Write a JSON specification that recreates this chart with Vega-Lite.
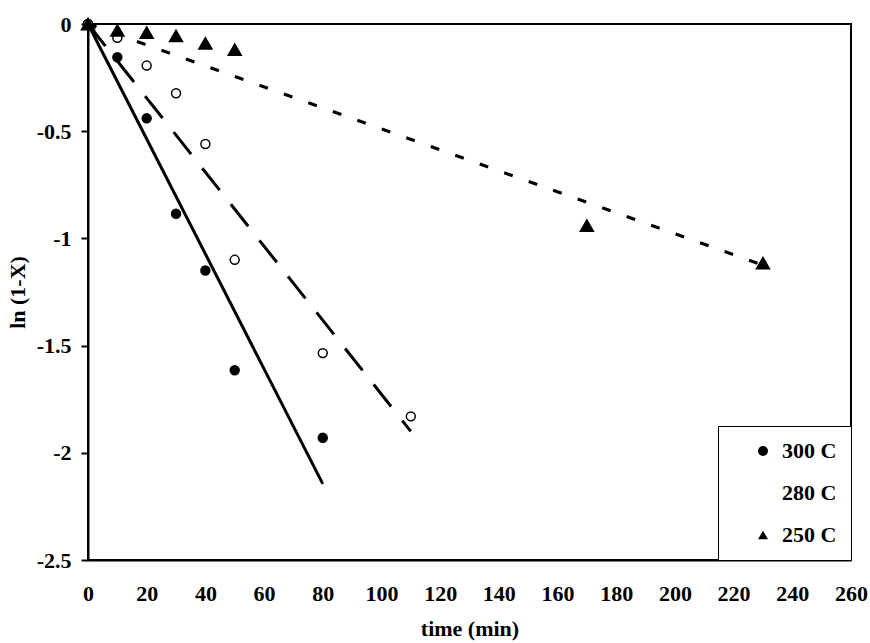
{
  "$schema": "https://vega.github.io/schema/vega-lite/v6.json",
  "width": 763,
  "height": 536,
  "autosize": {"type": "none"},
  "padding": {"left": 88, "top": 24, "right": 19, "bottom": 83},
  "background": "white",
  "config": {
    "view": {"stroke": "black", "strokeWidth": 2},
    "font": "Liberation Serif",
    "axis": {"grid": false, "domainColor": "black", "domainWidth": 2, "labelColor": "black", "titleColor": "black", "labelFont": "Liberation Serif", "titleFont": "Liberation Serif", "labelFontWeight": "bold", "titleFontWeight": "bold", "labelFontSize": 22, "titleFontSize": 22},
    "legend": {"orient": "bottom-right", "offset": 0, "strokeColor": "black", "fillColor": "white", "padding": 14, "rowPadding": 20, "labelFont": "Liberation Serif", "labelFontSize": 22, "labelFontWeight": "bold", "labelColor": "black", "symbolStrokeColor": "black", "symbolStrokeWidth": 1.5, "symbolSize": 100, "symbolOpacity": 1, "symbolOffset": 20, "labelOffset": 8}
  },
  "datasets": {
    "points": [
      {"series": "300 C", "t": 0, "v": 0},
      {"series": "300 C", "t": 10, "v": -0.155},
      {"series": "300 C", "t": 20, "v": -0.44},
      {"series": "300 C", "t": 30, "v": -0.885},
      {"series": "300 C", "t": 40, "v": -1.15},
      {"series": "300 C", "t": 50, "v": -1.615},
      {"series": "300 C", "t": 80, "v": -1.93},
      {"series": "280 C", "t": 0, "v": 0},
      {"series": "280 C", "t": 10, "v": -0.064},
      {"series": "280 C", "t": 20, "v": -0.194},
      {"series": "280 C", "t": 30, "v": -0.323},
      {"series": "280 C", "t": 40, "v": -0.56},
      {"series": "280 C", "t": 50, "v": -1.1},
      {"series": "280 C", "t": 80, "v": -1.535},
      {"series": "280 C", "t": 110, "v": -1.83},
      {"series": "250 C", "t": 0, "v": 0},
      {"series": "250 C", "t": 10, "v": -0.03},
      {"series": "250 C", "t": 20, "v": -0.04},
      {"series": "250 C", "t": 30, "v": -0.055},
      {"series": "250 C", "t": 40, "v": -0.09},
      {"series": "250 C", "t": 50, "v": -0.12},
      {"series": "250 C", "t": 170, "v": -0.94},
      {"series": "250 C", "t": 230, "v": -1.115}
    ],
    "fits": [
      {"fit": "300 C", "t": 0, "v": 0},
      {"fit": "300 C", "t": 80, "v": -2.145},
      {"fit": "280 C", "t": 0, "v": 0},
      {"fit": "280 C", "t": 110, "v": -1.9},
      {"fit": "250 C", "t": 0, "v": 0},
      {"fit": "250 C", "t": 230, "v": -1.125}
    ]
  },
  "layer": [
    {
      "data": {"name": "fits"},
      "transform": [{"filter": "datum.fit == '300 C'"}],
      "mark": {"type": "line", "color": "black", "strokeWidth": 3, "strokeCap": "butt"},
      "encoding": {
        "x": {"field": "t", "type": "quantitative", "scale": {"domain": [0, 260], "nice": false},
          "axis": {"values": [0, 20, 40, 60, 80, 100, 120, 140, 160, 180, 200, 220, 240, 260], "ticks": false, "labelFlush": false, "labelOverlap": false, "labelPadding": 23, "title": "time (min)", "titlePadding": 14}},
        "y": {"field": "v", "type": "quantitative", "scale": {"domain": [-2.5, 0], "nice": false},
          "axis": {"values": [-2.5, -2, -1.5, -1, -0.5, 0], "ticks": true, "tickSize": 7, "tickColor": "black", "tickWidth": 2, "labelPadding": 10, "labelExpr": "datum.value == 0 ? '0' : '-' + format(-datum.value, '~g')", "title": "ln (1-X)", "titlePadding": 7}}
      }
    },
    {
      "data": {"name": "fits"},
      "transform": [{"filter": "datum.fit == '280 C'"}],
      "mark": {"type": "line", "color": "black", "strokeWidth": 3, "strokeCap": "butt", "strokeDash": [28, 18]},
      "encoding": {
        "x": {"field": "t", "type": "quantitative"},
        "y": {"field": "v", "type": "quantitative"}
      }
    },
    {
      "data": {"name": "fits"},
      "transform": [{"filter": "datum.fit == '250 C'"}],
      "mark": {"type": "line", "color": "black", "strokeWidth": 3, "strokeCap": "butt", "strokeDash": [9, 17]},
      "encoding": {
        "x": {"field": "t", "type": "quantitative"},
        "y": {"field": "v", "type": "quantitative"}
      }
    },
    {
      "data": {"name": "points"},
      "transform": [{"filter": "datum.series != '250 C'"}],
      "mark": {"type": "point", "filled": true, "stroke": "black", "strokeWidth": 1.5, "size": 80, "opacity": 1},
      "encoding": {
        "x": {"field": "t", "type": "quantitative"},
        "y": {"field": "v", "type": "quantitative"},
        "shape": {"field": "series", "type": "nominal", "scale": {"domain": ["300 C", "280 C", "250 C"], "range": ["circle", "circle", "triangle-up"]}, "legend": {"title": null}},
        "fill": {"field": "series", "type": "nominal", "scale": {"domain": ["300 C", "280 C", "250 C"], "range": ["black", "white", "black"]}, "legend": {"title": null}}
      }
    },
    {
      "data": {"name": "points"},
      "transform": [{"filter": "datum.series == '250 C'"}],
      "mark": {"type": "point", "filled": true, "stroke": "black", "strokeWidth": 1.5, "size": 170, "opacity": 1},
      "encoding": {
        "x": {"field": "t", "type": "quantitative"},
        "y": {"field": "v", "type": "quantitative"},
        "shape": {"field": "series", "type": "nominal", "legend": {"title": null}},
        "fill": {"field": "series", "type": "nominal", "legend": {"title": null}}
      }
    }
  ]
}
